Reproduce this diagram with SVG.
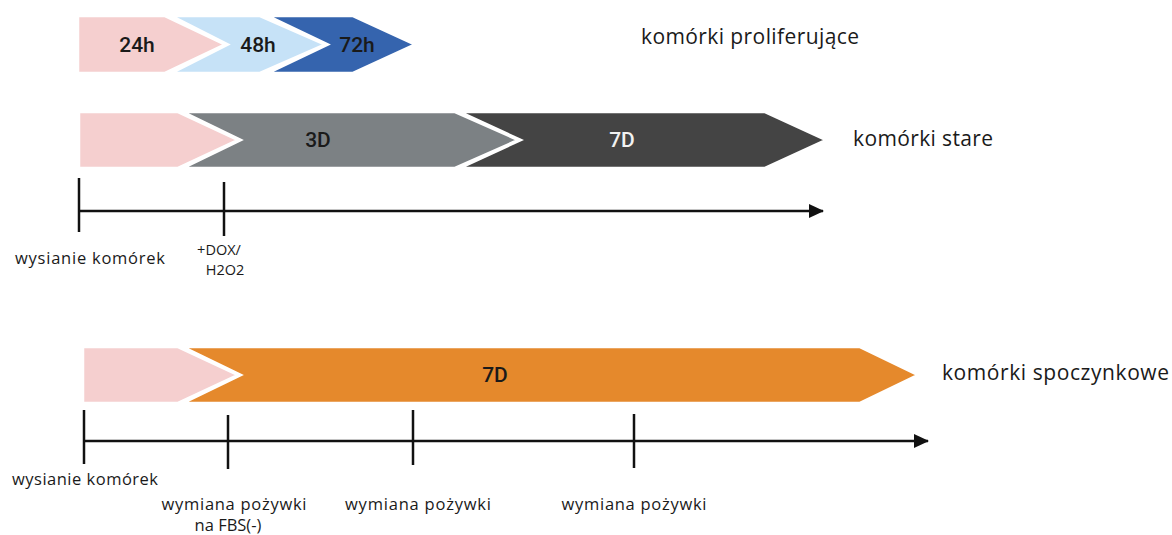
<svg xmlns="http://www.w3.org/2000/svg" width="1172" height="535" viewBox="0 0 1172 535">
  <style>
    .chev { stroke: #ffffff; stroke-width: 2.5; stroke-linejoin: miter; }
    .pink { fill: #f5cfcf; }
    .lblue { fill: #c6e2f7; }
    .dblue { fill: #3564ae; }
    .gray { fill: #7c8184; }
    .dark { fill: #444444; }
    .orange { fill: #e5892c; }
    .in { font-family: Roboto, "Liberation Sans", sans-serif; font-size: 21px; font-weight: 500; text-anchor: middle; dominant-baseline: central; fill: #1a1a1a; }
    .title { font-family: "Open Sans", "Liberation Sans", sans-serif; font-size: 21px; font-weight: 500; dominant-baseline: central; fill: #1a1a1a; }
    .tick { font-family: "Open Sans", "Liberation Sans", sans-serif; font-size: 16.5px; text-anchor: middle; dominant-baseline: central; fill: #1a1a1a; }
    .tick-sm { font-size: 14.5px; }
    .axis { stroke: #111111; stroke-width: 2.5; fill: none; }
  </style>
  <defs>
    <marker id="arrow" markerUnits="userSpaceOnUse" markerWidth="15" markerHeight="14" refX="14" refY="7" orient="auto">
      <path d="M0,0 L15,7 L0,14 z" fill="#111111"/>
    </marker>
  </defs>

  <rect width="1172" height="535" fill="#ffffff"/>

  <!-- proliferating cells: 24h / 48h / 72h -->
  <g id="row-proliferujace">
    <polygon class="chev pink" points="78,16 165,16 225,44.5 165,73 78,73"/>
    <polygon class="chev lblue" points="172,16 260,16 325,44.5 260,73 172,73 228,44.5"/>
    <polygon class="chev dblue" points="268,16 353,16 415,44.5 353,73 268,73 328,44.5"/>
    <text class="in" x="137" y="44.5">24h</text>
    <text class="in" x="258" y="44.5">48h</text>
    <text class="in" x="357" y="44.5">72h</text>
    <text class="title" x="641" y="36" textLength="218">komórki proliferujące</text>
  </g>

  <!-- senescent cells: 3D / 7D -->
  <g id="row-stare">
    <polygon class="chev pink" points="79,112 178,112 238,140 178,168 79,168"/>
    <polygon class="chev gray" points="183,112 455,112 518,140 455,168 183,168 241,140"/>
    <polygon class="chev dark" points="460,112 765,112 826,140 765,168 460,168 521,140"/>
    <text class="in" x="318" y="140">3D</text>
    <text class="in" x="622" y="140" style="fill:#f2f2f2">7D</text>
    <text class="title" x="853" y="138" textLength="140">komórki stare</text>
  </g>

  <!-- quiescent cells: 7D -->
  <g id="row-spoczynkowe">
    <polygon class="chev pink" points="83,347 178,347 238,375 178,403 83,403"/>
    <polygon class="chev orange" points="183,347 860,347 918,375 860,403 183,403 241,375"/>
    <text class="in" x="495" y="375">7D</text>
    <text class="title" x="942" y="372" textLength="227">komórki spoczynkowe</text>
  </g>

  <!-- timelines -->
  <g id="connectors">
    <line class="axis" x1="79" y1="211" x2="823" y2="211" marker-end="url(#arrow)"/>
    <line class="axis" x1="79" y1="178" x2="79" y2="232"/>
    <line class="axis" x1="224" y1="182" x2="224" y2="236"/>

    <line class="axis" x1="84" y1="441" x2="928" y2="441" marker-end="url(#arrow)"/>
    <line class="axis" x1="84" y1="410" x2="84" y2="464"/>
    <line class="axis" x1="228" y1="415" x2="228" y2="469"/>
    <line class="axis" x1="413" y1="410" x2="413" y2="465"/>
    <line class="axis" x1="634" y1="414" x2="634" y2="468"/>
  </g>

  <!-- timeline labels -->
  <g id="labels-stare">
    <text class="tick" x="90" y="257" textLength="150">wysianie komórek</text>
    <text class="tick tick-sm" x="219" y="249">+DOX/</text>
    <text class="tick tick-sm" x="225" y="269">H2O2</text>
  </g>
  <g id="labels-spoczynkowe">
    <text class="tick" x="85" y="478" textLength="146">wysianie komórek</text>
    <text class="tick" x="234" y="503" textLength="145">wymiana pożywki</text>
    <text class="tick" x="228" y="524">na FBS(-)</text>
    <text class="tick" x="418" y="503" textLength="146">wymiana pożywki</text>
    <text class="tick" x="634" y="503" textLength="145">wymiana pożywki</text>
  </g>
</svg>
